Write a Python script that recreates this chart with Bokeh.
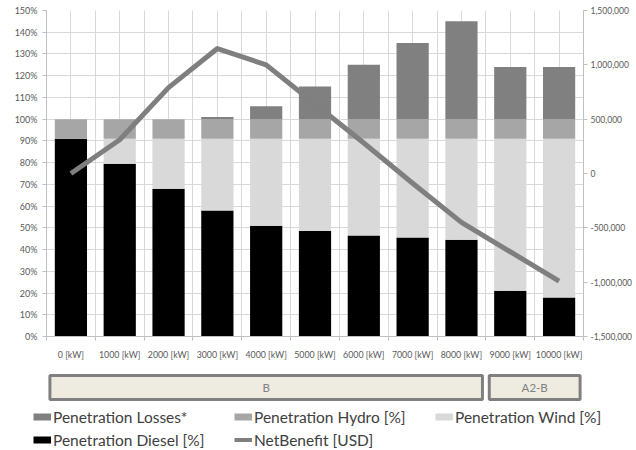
import numpy as np
from bokeh.plotting import figure
from bokeh.models import (Range1d, LinearAxis, FixedTicker, PrintfTickFormatter,
                          NumeralTickFormatter, ColumnDataSource, Legend, LegendItem)
from bokeh.layouts import column, row
from bokeh.embed import file_html
from bokeh.resources import INLINE
from bokeh.core.properties import value

# ---------------- data ----------------
categories = ["0 [kW]", "1000 [kW]", "2000 [kW]", "3000 [kW]", "4000 [kW]", "5000 [kW]",
              "6000 [kW]", "7000 [kW]", "8000 [kW]", "9000 [kW]", "10000 [kW]"]
diesel = [91, 79.5, 68, 58, 51, 48.5, 46.5, 45.5, 44.5, 21, 18]
wind = [0, 11.5, 23, 33, 40, 42.5, 44.5, 45.5, 46.5, 70, 73]
hydro = [9, 9, 9, 9, 9, 9, 9, 9, 9, 9, 9]
losses = [0, 0, 0, 1, 6, 15, 25, 35, 45, 24, 24]
net_benefit = [0, 310000, 790000, 1150000, 1000000, 640000, 280000, -90000, -450000, -720000, -990000]
pct_ticks = [0, 10, 20, 30, 40, 50, 60, 70, 80, 90, 100, 110, 120, 130, 140, 150]
usd_ticks = [-1500000, -1000000, -500000, 0, 500000, 1000000, 1500000]
groups = ["B", "A2-B"]
group_first = [0, 9]
group_last = [8, 10]

# ---------------- styles ----------------
FONT = "Lato"
C_LOSS, C_HYDRO, C_WIND, C_DIESEL, C_LINE = "#808080", "#a6a6a6", "#d9d9d9", "#000000", "#7f7f7f"
GRID = "#d9d9d9"
TXT = "#595959"

n = len(categories)
xs = [i + 0.5 for i in range(n)]
bounds = [float(i) for i in range(n + 1)]

src = ColumnDataSource(dict(x=xs, diesel=diesel, wind=wind, hydro=hydro, losses=losses,
                            net=net_benefit))

W, H1, H2 = 636, 362, 88
BL, BR = 46, 53
p = figure(width=W, height=H1, x_range=Range1d(0, n), y_range=Range1d(0, 150),
           output_backend="svg", toolbar_location=None,
           min_border_left=BL, min_border_right=BR, min_border_top=10, min_border_bottom=24)
p.outline_line_color = None
p.background_fill_color = "white"

p.extra_y_ranges = {"usd": Range1d(-1500000, 1500000)}

p.vbar_stack(["diesel", "wind", "hydro", "losses"], x="x", width=0.66,
             color=[C_DIESEL, C_WIND, C_HYDRO, C_LOSS], line_color=None, source=src)
p.line("x", "net", source=src, y_range_name="usd", line_width=5, color=C_LINE,
       line_join="round")

# x axis
xa = p.xaxis[0]
xa.ticker = FixedTicker(ticks=xs, minor_ticks=bounds)
xa.major_label_overrides = {x: c for x, c in zip(xs, categories)}
xa.major_tick_out = 0
xa.major_tick_in = 0
xa.minor_tick_out = 4
xa.minor_tick_in = 0
xa.minor_tick_line_color = "#bfbfbf"
xa.axis_line_color = "#bfbfbf"
xa.major_label_standoff = 8
xa.major_label_text_font = FONT
xa.major_label_text_font_size = "8.8px"
xa.major_label_text_color = TXT

# left axis
ya = p.yaxis[0]
ya.ticker = FixedTicker(ticks=pct_ticks)
ya.formatter = PrintfTickFormatter(format="%d%%")
ya.major_tick_out = 4
ya.major_tick_in = 0
ya.minor_tick_line_color = None
ya.major_tick_line_color = "#bfbfbf"
ya.axis_line_color = "#bfbfbf"
ya.major_label_standoff = 5
ya.major_label_text_font = FONT
ya.major_label_text_font_size = "9px"
ya.major_label_text_color = TXT

# right axis
ra = LinearAxis(y_range_name="usd", ticker=FixedTicker(ticks=usd_ticks),
                formatter=NumeralTickFormatter(format="0,0"))
ra.major_tick_out = 4
ra.major_tick_in = 0
ra.minor_tick_line_color = None
ra.major_tick_line_color = "#bfbfbf"
ra.axis_line_color = "#bfbfbf"
ra.major_label_standoff = 3
ra.major_label_text_font = FONT
ra.major_label_text_font_size = "8.5px"
ra.major_label_text_color = TXT
p.add_layout(ra, "right")

p.xgrid.grid_line_color = GRID
p.xgrid.minor_grid_line_color = GRID
p.ygrid.grid_line_color = GRID

# ---------------- lower panel: group boxes + legend ----------------
cw = (W - BL - BR) / n
p2 = figure(width=W, height=H2, x_range=Range1d(-BL / cw, (W - BL) / cw),
            y_range=Range1d(0, H2),
            output_backend="svg", toolbar_location=None,
            x_axis_location=None, y_axis_location=None,
            min_border_left=0, min_border_right=0, min_border_top=0, min_border_bottom=0)
p2.outline_line_color = None
p2.grid.visible = False

pad = 0.07
g_left = [f + pad for f in group_first]
g_right = [l + 1 - pad for l in group_last]
g_mid = [(a + b) / 2 for a, b in zip(g_left, g_right)]
gsrc = ColumnDataSource(dict(left=g_left, right=g_right, mid=g_mid, name=groups))
p2.quad(left="left", right="right", top=75, bottom=51, source=gsrc,
        fill_color="#eeece1", line_color="#808080", line_width=3)
p2.text(x="mid", y=63, text="name", source=gsrc, text_align="center", text_baseline="middle",
        text_font=value(FONT), text_font_size="11.5px", text_color="#808080")


def dummy(width, color):
    s = ColumnDataSource(dict(x=[float("nan")], y=[float("nan")]))
    return p2.line("x", "y", source=s, line_width=width, color=color)


r_loss = dummy(7, C_LOSS)
r_hydro = dummy(7, C_HYDRO)
r_wind = dummy(7, C_WIND)
r_diesel = dummy(7, C_DIESEL)
r_net = dummy(4, C_LINE)


def make_legend(items, loc):
    return Legend(items=items, location=loc, orientation="horizontal",
                  label_width=181, spacing=0, glyph_width=18, glyph_height=19,
                  label_standoff=2, padding=0, margin=0, border_line_color=None,
                  background_fill_alpha=0, label_text_font=FONT,
                  label_text_font_size="15.5px", label_text_color="#404040")


lg1 = make_legend([LegendItem(label="Penetration Losses*", renderers=[r_loss], index=0),
                   LegendItem(label="Penetration Hydro [%]", renderers=[r_hydro], index=0),
                   LegendItem(label="Penetration Wind [%]", renderers=[r_wind], index=0)], (33, 24))
lg2 = make_legend([LegendItem(label="Penetration Diesel [%]", renderers=[r_diesel], index=0),
                   LegendItem(label="NetBenefit [USD]", renderers=[r_net], index=0)], (33, 1))
p2.add_layout(lg1)
p2.add_layout(lg2)

layout = column(p, row(p2, spacing=0), spacing=0)
open("out.html", "w").write(file_html(layout, INLINE))
